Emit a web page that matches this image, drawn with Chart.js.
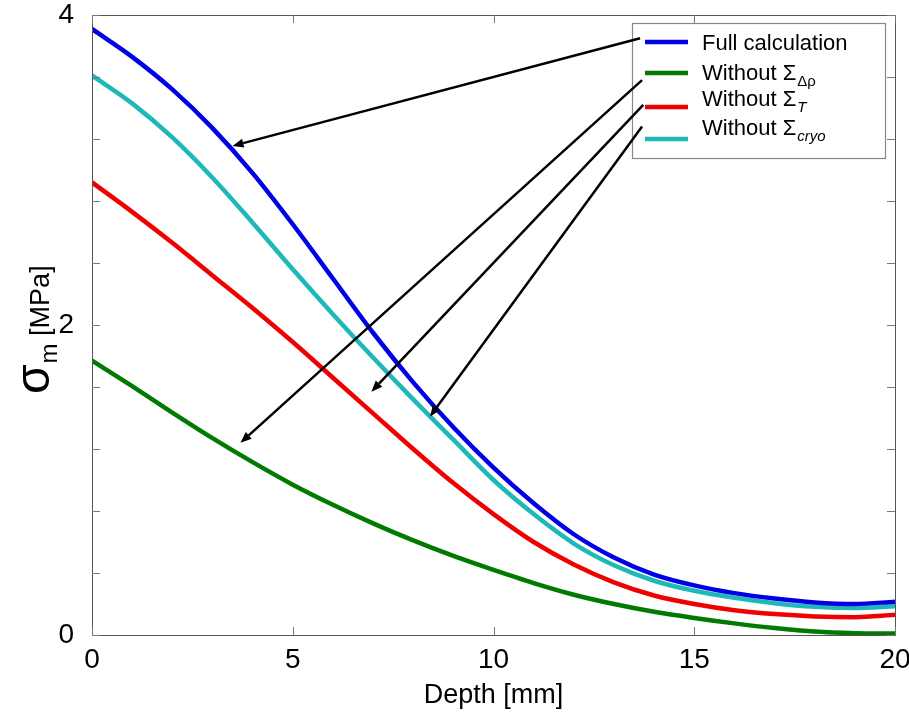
<!DOCTYPE html>
<html>
<head>
<meta charset="utf-8">
<script src="https://cdn.jsdelivr.net/npm/chart.js@4.4.1/dist/chart.umd.min.js"></script>
<style>
  html, body { margin: 0; padding: 0; background: #fff; }
  #wrap { width: 909px; height: 719px; }
</style>
</head>
<body>
<div id="wrap"><canvas id="chartSigma"></canvas></div>
<script>
// datos
const depthMm = [0, 1, 2, 3, 4, 5, 6, 7, 8, 9, 10, 11, 12, 13, 14, 15, 16, 17, 18, 19, 20];
const fullCalculation = [3.91, 3.73, 3.52, 3.27, 2.98, 2.65, 2.30, 1.95, 1.63, 1.34, 1.08, 0.85, 0.65, 0.50, 0.39, 0.32, 0.27, 0.235, 0.21, 0.20, 0.215];
const withoutDeltaRho = [1.77, 1.605, 1.435, 1.27, 1.115, 0.97, 0.84, 0.72, 0.61, 0.51, 0.42, 0.335, 0.26, 0.20, 0.15, 0.11, 0.075, 0.045, 0.022, 0.012, 0.01];
const withoutT = [2.92, 2.73, 2.53, 2.32, 2.11, 1.89, 1.66, 1.43, 1.20, 0.98, 0.78, 0.60, 0.455, 0.34, 0.255, 0.20, 0.16, 0.135, 0.12, 0.115, 0.13];
const withoutCryo = [3.61, 3.43, 3.21, 2.95, 2.66, 2.36, 2.07, 1.79, 1.52, 1.26, 1.00, 0.78, 0.59, 0.45, 0.35, 0.285, 0.24, 0.205, 0.182, 0.174, 0.186];

const legendNames = ['Full calculation', 'Without \u03A3', 'Without \u03A3', 'Without \u03A3'];
const legendSubs = ['', '\u0394\u03C1', 'T', 'cryo'];
const xTickStep = 5;
const yTickStep = 0.4;
const yLabelled = [0, 2, 4];

// flechas del texto de la leyenda a las curvas (coordenadas de datos)
const arrows = [
  { from: [13.65, 3.85], to: [3.50, 3.155] },
  { from: [13.70, 3.58], to: [3.70, 1.24] },
  { from: [13.73, 3.42], to: [6.96, 1.57] },
  { from: [13.70, 3.28], to: [8.42, 1.41] }
];

const colors = ['#0000e6', '#007a00', '#f00000', '#1fb8b8'];
const series = [fullCalculation, withoutDeltaRho, withoutT, withoutCryo];
const FONT = '"Liberation Sans", Arial, sans-serif';

function pts(ys) {
  return depthMm.map((x, i) => ({ x: x, y: ys[i] }));
}

// ejes estilo matlab: caja, ticks hacia dentro, flechas y leyenda
const matlabStyle = {
  id: 'matlabStyle',
  afterDraw(chart) {
    const ctx = chart.ctx;
    const a = chart.chartArea;
    const sx = chart.scales.x, sy = chart.scales.y;
    ctx.save();

    // caja
    ctx.strokeStyle = '#555';
    ctx.lineWidth = 1;
    ctx.strokeRect(Math.round(a.left) + 0.5, Math.round(a.top) + 0.5, Math.round(a.right - a.left), Math.round(a.bottom - a.top));

    // ticks
    ctx.strokeStyle = '#777';
    const tl = 8;
    sy.ticks.forEach(t => {
      const py = Math.round(sy.getPixelForValue(t.value)) + 0.5;
      ctx.beginPath();
      ctx.moveTo(a.left, py); ctx.lineTo(a.left + tl, py);
      ctx.moveTo(a.right, py); ctx.lineTo(a.right - tl, py);
      ctx.stroke();
    });
    sx.ticks.forEach(t => {
      const px = Math.round(sx.getPixelForValue(t.value)) + 0.5;
      ctx.beginPath();
      ctx.moveTo(px, a.bottom); ctx.lineTo(px, a.bottom - tl);
      ctx.moveTo(px, a.top); ctx.lineTo(px, a.top + tl);
      ctx.stroke();
    });

    // leyenda: caja
    const lb = { x: 632, y: 23, w: 253, h: 135 };
    ctx.fillStyle = '#fff';
    ctx.fillRect(lb.x, lb.y, lb.w, lb.h);
    ctx.strokeStyle = '#888';
    ctx.lineWidth = 1.2;
    ctx.strokeRect(lb.x + 0.5, lb.y + 0.5, lb.w, lb.h);

    // flechas
    ctx.strokeStyle = '#000';
    ctx.fillStyle = '#000';
    ctx.lineWidth = 2.5;
    arrows.forEach(ar => {
      const x0 = sx.getPixelForValue(ar.from[0]), y0 = sy.getPixelForValue(ar.from[1]);
      const x1 = sx.getPixelForValue(ar.to[0]), y1 = sy.getPixelForValue(ar.to[1]);
      const ang = Math.atan2(y1 - y0, x1 - x0);
      const hl = 11, hw = 4.5;
      const bx = x1 - hl * Math.cos(ang), by = y1 - hl * Math.sin(ang);
      ctx.beginPath();
      ctx.moveTo(x0, y0); ctx.lineTo(bx, by);
      ctx.stroke();
      ctx.beginPath();
      ctx.moveTo(x1, y1);
      ctx.lineTo(bx + hw * Math.sin(ang), by - hw * Math.cos(ang));
      ctx.lineTo(bx - hw * Math.sin(ang), by + hw * Math.cos(ang));
      ctx.closePath();
      ctx.fill();
    });

    // leyenda: muestras y textos
    const sampleY = [42, 73, 107, 139];
    const textY = [50, 80, 106, 135];
    ctx.lineWidth = 4.5;
    legendNames.forEach((name, i) => {
      ctx.strokeStyle = colors[i];
      ctx.beginPath();
      ctx.moveTo(645, sampleY[i]); ctx.lineTo(688, sampleY[i]);
      ctx.stroke();
      ctx.fillStyle = '#000';
      ctx.textBaseline = 'alphabetic';
      ctx.textAlign = 'left';
      ctx.font = '22px ' + FONT;
      ctx.fillText(name, 702, textY[i]);
      if (legendSubs[i]) {
        const w = ctx.measureText(name).width;
        ctx.font = (i > 1 ? 'italic ' : '') + '15px ' + FONT;
        ctx.fillText(legendSubs[i], 702 + w + 1, textY[i] + 6);
      }
    });

    // titulo eje y: sigma_m [MPa]
    ctx.translate(49, 394);
    ctx.rotate(-Math.PI / 2);
    ctx.fillStyle = '#000';
    ctx.font = '48px ' + FONT;
    ctx.fillText('\u03C3', 0, 0);
    let off = ctx.measureText('\u03C3').width;
    ctx.font = '24px ' + FONT;
    ctx.fillText('m', off + 1, 8);
    off += ctx.measureText('m').width + 1;
    ctx.font = '27px ' + FONT;
    ctx.fillText(' [MPa]', off, 0);

    ctx.restore();
  }
};

const ctxSigma = document.getElementById('chartSigma');
new Chart(ctxSigma, {
  type: 'line',
  data: {
    datasets: series.map((s, i) => ({
      label: legendNames[i] + legendSubs[i],
      data: pts(s),
      borderColor: colors[i],
      backgroundColor: colors[i],
      borderWidth: 4.5,
      pointRadius: 0,
      cubicInterpolationMode: 'monotone',
      fill: false
    }))
  },
  options: {
    responsive: true,
    maintainAspectRatio: false,
    animation: false,
    layout: { padding: { top: 15, right: 14, left: 0, bottom: 0 } },
    plugins: { legend: { display: false }, tooltip: { enabled: false } },
    scales: {
      x: {
        type: 'linear',
        min: 0, max: 20,
        grid: { display: false },
        border: { display: false },
        ticks: { stepSize: xTickStep, color: '#000', font: { family: FONT, size: 28 }, padding: 0, maxRotation: 0 },
        title: { display: true, text: 'Depth [mm]', color: '#000', font: { family: FONT, size: 27 }, padding: { top: 0, bottom: 7 } },
        afterFit(scale) { scale.height = 84; scale.paddingLeft = 0; scale.paddingRight = 0; }
      },
      y: {
        min: 0, max: 4,
        grid: { display: false },
        border: { display: false },
        ticks: {
          stepSize: yTickStep,
          color: '#000',
          font: { family: FONT, size: 28 },
          padding: 10,
          autoSkip: false,
          callback: v => {
            const hit = yLabelled.find(l => Math.abs(l - v) < 1e-6);
            return hit === undefined ? '' : String(hit);
          }
        },
        afterFit(scale) { scale.width = 92; scale.paddingTop = 0; scale.paddingBottom = 0; }
      }
    }
  },
  plugins: [matlabStyle]
});
</script>
</body>
</html>
